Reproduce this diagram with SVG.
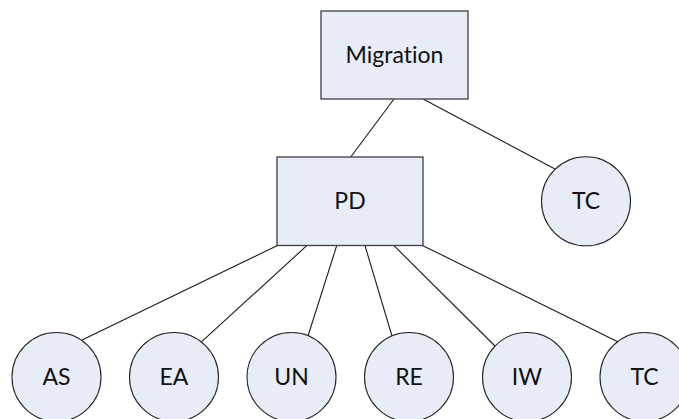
<svg xmlns="http://www.w3.org/2000/svg" width="679" height="419" viewBox="0 0 679 419">
  <style>
    .box { fill: #E7ECF7; stroke: #3F3F3F; stroke-width: 1.3; }
    .circ { fill: #E7ECF7; stroke: #262626; stroke-width: 1.1; }
    .edge { stroke: #1A1A1A; stroke-width: 1.1; fill: none; }
    .lbl { font-family: Lato, "Liberation Sans", Arial, sans-serif; font-size: 23px; fill: #111; text-anchor: middle;
           font-variant-ligatures: none; font-feature-settings: "liga" 0, "clig" 0; }
  </style>
  <rect width="679" height="419" fill="#FFFFFF"/>

  <!-- connectors -->
  <g id="connectors">
    <line class="edge" x1="394" y1="99" x2="350.7" y2="157"/>
    <line class="edge" x1="423" y1="99" x2="555" y2="169"/>
    <line class="edge" x1="277" y1="245.7" x2="82" y2="340"/>
    <line class="edge" x1="306.7" y1="245.7" x2="201.7" y2="341.7"/>
    <line class="edge" x1="336.7" y1="245.7" x2="308" y2="336"/>
    <line class="edge" x1="365" y1="245.7" x2="392" y2="336"/>
    <line class="edge" x1="394" y1="245.7" x2="495" y2="346"/>
    <line class="edge" x1="423" y1="245.7" x2="617.7" y2="341.7"/>
  </g>

  <g id="migration">
    <rect class="box" x="321" y="11" width="147" height="88"/>
    <text class="lbl" x="394.5" y="62.5">Migration</text>
  </g>

  <g id="pd">
    <rect class="box" x="277" y="157" width="146" height="88.5"/>
    <text class="lbl" x="350" y="209">PD</text>
  </g>

  <g id="tc-top">
    <circle class="circ" cx="586" cy="201.3" r="44.5"/>
    <text class="lbl" x="586" y="209">TC</text>
  </g>

  <g id="as">
    <circle class="circ" cx="56.5" cy="377" r="44.5"/>
    <text class="lbl" x="56.5" y="385">AS</text>
  </g>
  <g id="ea">
    <circle class="circ" cx="174" cy="377" r="44.5"/>
    <text class="lbl" x="174" y="385">EA</text>
  </g>
  <g id="un">
    <circle class="circ" cx="291.5" cy="377" r="44.5"/>
    <text class="lbl" x="291.5" y="385">UN</text>
  </g>
  <g id="re">
    <circle class="circ" cx="409" cy="377" r="44.5"/>
    <text class="lbl" x="409" y="385">RE</text>
  </g>
  <g id="iw">
    <circle class="circ" cx="527" cy="377" r="44.5"/>
    <text class="lbl" x="527" y="385">IW</text>
  </g>
  <g id="tc-bottom">
    <circle class="circ" cx="644.5" cy="377" r="44.5"/>
    <text class="lbl" x="644.5" y="385">TC</text>
  </g>
</svg>
